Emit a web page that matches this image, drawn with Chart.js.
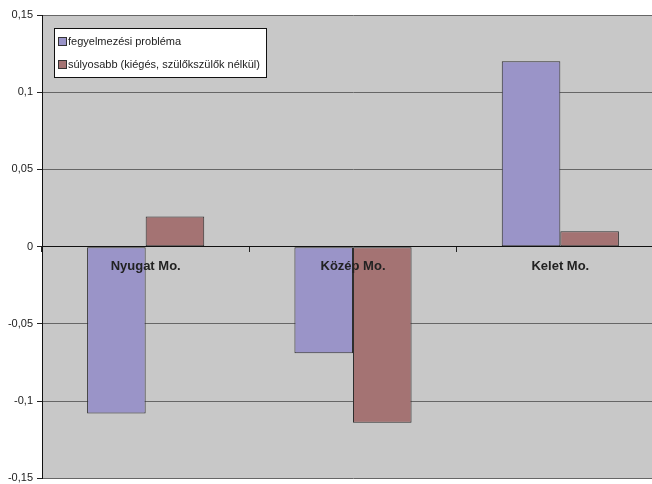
<!DOCTYPE html>
<html>
<head>
<meta charset="utf-8">
<script src="https://cdn.jsdelivr.net/npm/chart.js@4/dist/chart.umd.min.js"></script>
<style>
    html, body { margin: 0; padding: 0; background: #fff; overflow: hidden; }
    #wrap { width: 666px; height: 489px; position: relative; }
</style>
</head>
<body>
<div id="wrap"><canvas id="regionChart"></canvas></div>
<script>
const categories = ["Nyugat Mo.", "Közép Mo.", "Kelet Mo."];
const seriesNames = ["fegyelmezési probléma", "súlyosabb (kiégés, szülőkszülők nélkül)"];
const discipline = [-0.108, -0.069, 0.12];
const severe = [0.0195, -0.114, 0.01];
const yMin = -0.15;
const yMax = 0.15;
const yStep = 0.05;

const seriesColors = ["#9a94c8", "#a47373"];

// grey plot background
const plotBackground = {
    id: "plotBackground",
    beforeDraw(chart) {
        const { ctx, chartArea } = chart;
        ctx.save();
        ctx.fillStyle = "#c8c8c8";
        ctx.fillRect(chartArea.left, chartArea.top, chartArea.right - chartArea.left, chartArea.bottom - chartArea.top);
        ctx.restore();
    }
};

// boxed legend in the upper left corner of the plot
const boxLegend = {
    id: "boxLegend",
    afterDraw(chart) {
        const ctx = chart.ctx;
        const x = 54.5, y = 28.5, w = 212, h = 49;
        ctx.save();
        ctx.fillStyle = "#fff";
        ctx.fillRect(x, y, w, h);
        ctx.strokeStyle = "#111";
        ctx.lineWidth = 1;
        ctx.strokeRect(x, y, w, h);
        ctx.font = "11px 'Liberation Sans', Arial, sans-serif";
        ctx.textBaseline = "middle";
        chart.data.datasets.forEach((ds, i) => {
            const rowY = 42 + i * 23;
            ctx.fillStyle = ds.backgroundColor;
            ctx.fillRect(58.5, rowY - 4.5, 8, 8);
            ctx.strokeStyle = "#333";
            ctx.strokeRect(58.5, rowY - 4.5, 8, 8);
            ctx.fillStyle = "#222";
            ctx.fillText(ds.label, 68, rowY);
        });
        ctx.restore();
    }
};

const fmt = v => {
    const r = Math.round(v * 100) / 100;
    return (r === 0 ? "0" : String(r)).replace(".", ",");
};

new Chart(document.getElementById("regionChart"), {
    type: "bar",
    data: {
        labels: categories,
        datasets: [
            { label: seriesNames[0], data: discipline, backgroundColor: seriesColors[0] },
            { label: seriesNames[1], data: severe, backgroundColor: seriesColors[1] }
        ].map(ds => ({
            ...ds,
            borderColor: "#2e2e2e",
            borderWidth: 1,
            borderSkipped: false,
            categoryPercentage: 0.565,
            barPercentage: 1
        }))
    },
    options: {
        responsive: true,
        maintainAspectRatio: false,
        animation: false,
        layout: { padding: { top: 15, right: 2, bottom: 6, left: 0 } },
        plugins: {
            legend: { display: false },
            tooltip: { enabled: false }
        },
        scales: {
            x: {
                position: { y: 0 },
                offset: true,
                grid: {
                    offset: true,
                    drawOnChartArea: false,
                    tickLength: 5,
                    color: "#222"
                },
                border: { color: "#111", width: 1 },
                ticks: {
                    z: 1,   // category names sit on top of the bars
                    padding: 7,
                    color: "#222",
                    font: { family: "'Liberation Sans', Arial, sans-serif", size: 13, weight: "bold" }
                }
            },
            y: {
                min: yMin,
                max: yMax,
                afterFit(scale) { scale.width = 42; },
                grid: {
                    color: "#666",
                    tickColor: "#222",
                    tickLength: 5
                },
                border: { color: "#111", width: 1 },
                ticks: {
                    stepSize: yStep,
                    padding: 4,
                    color: "#222",
                    font: { family: "'Liberation Sans', Arial, sans-serif", size: 11 },
                    callback: v => fmt(v)
                }
            }
        }
    },
    plugins: [plotBackground, boxLegend]
});
</script>
</body>
</html>
